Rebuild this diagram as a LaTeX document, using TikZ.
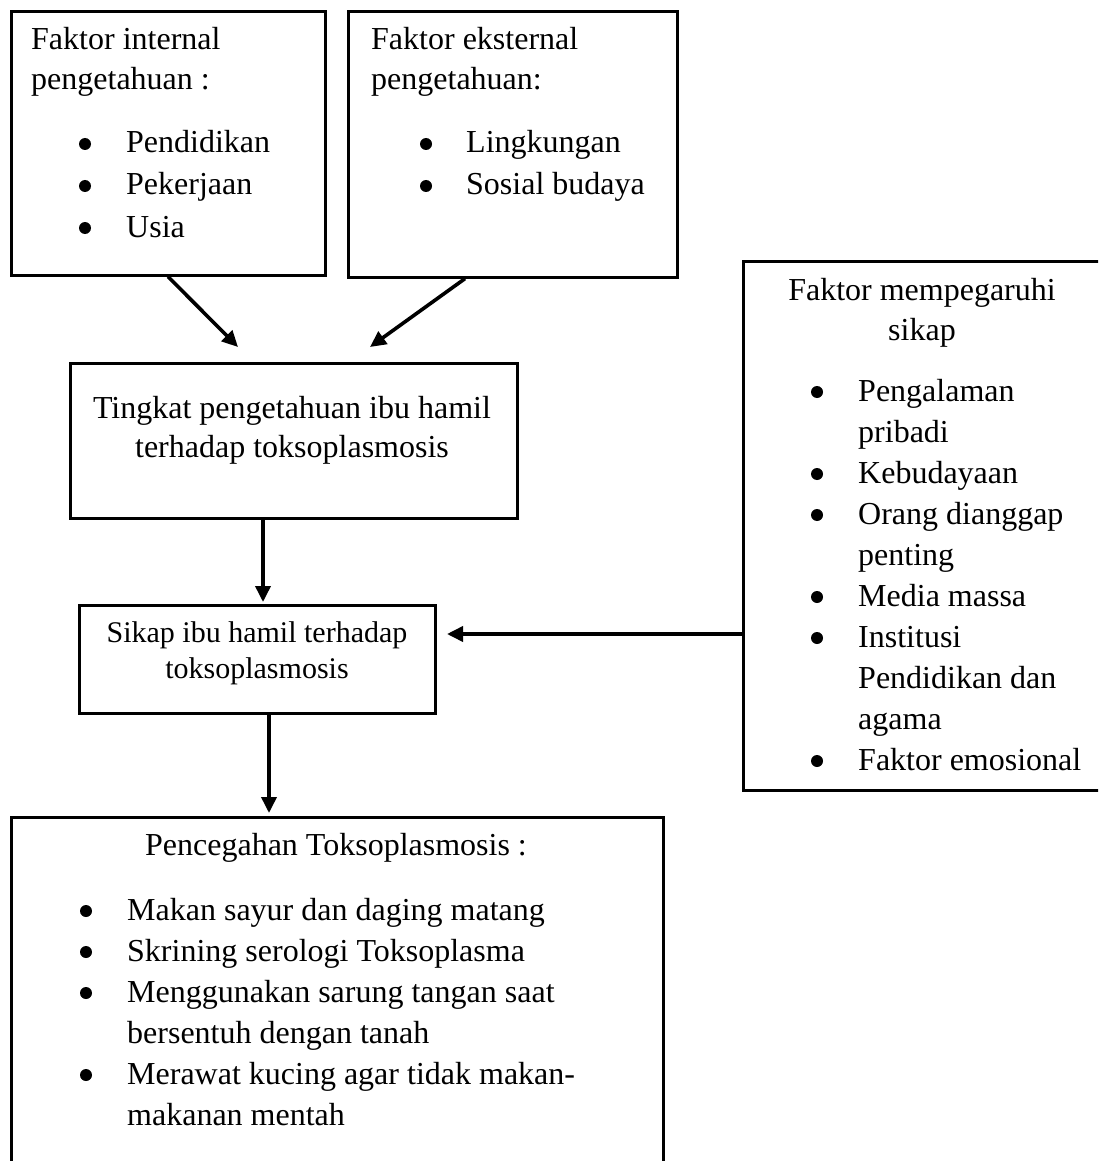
\documentclass[tikz,border=0pt]{standalone}
\usepackage{fontspec}
\setmainfont{Liberation Serif}
\usetikzlibrary{arrows.meta}
\tikzset{
  box/.style={draw=black, line width=2.6pt, rectangle, inner sep=0pt, anchor=north west},
  txt/.style={font=\fontsize{32}{41}\selectfont, inner sep=0pt},
  txts/.style={font=\fontsize{30}{36}\selectfont, inner sep=0pt},
  lt/.style={txt, anchor=base west},
  ct/.style={txt, anchor=base},
  bul/.style={circle, fill=black, inner sep=0pt, minimum size=12pt, yshift=9pt},
  arr/.style={line width=3.6pt, -{Triangle[length=16pt,width=15pt]}}
}
\begin{document}
\begin{tikzpicture}[x=1pt,y=-1pt]
\useasboundingbox (0,0) rectangle (1098,1161);
\clip (0,0) rectangle (1098,1161);
\fill[white] (0,0) rectangle (1098,1161);

% boxes
\node[box, minimum width=314pt, minimum height=264pt] (intl) at (10,10) {};
\node[box, minimum width=329pt, minimum height=266pt] (ext) at (347,10) {};
\node[box, minimum width=370pt, minimum height=529pt] (sf) at (742,260) {};
\node[box, minimum width=447pt, minimum height=155pt] (ting) at (69,362) {};
\node[box, minimum width=356pt, minimum height=108pt] (sik) at (78,604) {};
\node[box, minimum width=652pt, minimum height=370pt] (ceg) at (10,816) {};

% box 1 text
\node[lt] (i1) at (31,50) {Faktor internal};
\node[lt] (i2) at (31,90) {pengetahuan :};
\node[bul] (ib1) at (85,153) {};
\node[lt] (it1) at (126,153) {Pendidikan};
\node[bul] (ib2) at (85,195) {};
\node[lt] (it2) at (126,195) {Pekerjaan};
\node[bul] (ib3) at (85,237) {};
\node[lt] (it3) at (126,237) {Usia};

% box 2 text
\node[lt] (e1) at (371,50) {Faktor eksternal};
\node[lt] (e2) at (371,90) {pengetahuan:};
\node[bul] (eb1) at (426,153) {};
\node[lt] (et1) at (466,153) {Lingkungan};
\node[bul] (eb2) at (426,195) {};
\node[lt] (et2) at (466,195) {Sosial budaya};

% box 3 text
\node[ct] (s1) at (922,300) {Faktor mempegaruhi};
\node[ct] (s2) at (922,340) {sikap};
\node[bul] (sb1) at (817,401) {};
\node[lt] (st1) at (858,401) {Pengalaman};
\node[lt] (st1b) at (858,442) {pribadi};
\node[bul] (sb2) at (817,483) {};
\node[lt] (st2) at (858,483) {Kebudayaan};
\node[bul] (sb3) at (817,524) {};
\node[lt] (st3) at (858,524) {Orang dianggap};
\node[lt] (st3b) at (858,565) {penting};
\node[bul] (sb4) at (817,606) {};
\node[lt] (st4) at (858,606) {Media massa};
\node[bul] (sb5) at (817,647) {};
\node[lt] (st5) at (858,647) {Institusi};
\node[lt] (st5b) at (858,688) {Pendidikan dan};
\node[lt] (st5c) at (858,729) {agama};
\node[bul] (sb6) at (817,770) {};
\node[lt] (st6) at (858,770) {Faktor emosional};

% box 4 text
\node[ct] (t1) at (292,418) {Tingkat pengetahuan ibu hamil};
\node[ct] (t2) at (292,457) {terhadap toksoplasmosis};

% box 5 text
\node[txts, anchor=base] (k1) at (257,642) {Sikap ibu hamil terhadap};
\node[txts, anchor=base] (k2) at (257,678) {toksoplasmosis};

% box 6 text
\node[ct] (c0) at (336,855) {Pencegahan Toksoplasmosis :};
\node[bul] (cb1) at (86,920) {};
\node[lt] (ct1) at (127,920) {Makan sayur dan daging matang};
\node[bul] (cb2) at (86,961) {};
\node[lt] (ct2) at (127,961) {Skrining serologi Toksoplasma};
\node[bul] (cb3) at (86,1002) {};
\node[lt] (ct3) at (127,1002) {Menggunakan sarung tangan saat};
\node[lt] (ct3b) at (127,1043) {bersentuh dengan tanah};
\node[bul] (cb4) at (86,1084) {};
\node[lt] (ct4) at (127,1084) {Merawat kucing agar tidak makan-};
\node[lt] (ct4b) at (127,1125) {makanan mentah};

% arrow ends
\coordinate (a1e) at (238,347);
\coordinate (a2e) at (370,347);
\coordinate (a5e) at (447,634);

% arrows
\draw[arr] ([xshift=158pt]intl.south west) -- (a1e);
\draw[arr] ([xshift=118pt]ext.south west) -- (a2e);
\draw[arr] ([xshift=194pt]ting.south west) -- ([xshift=185pt,yshift=2pt]sik.north west);
\draw[arr] ([xshift=191pt]sik.south west) -- ([xshift=259pt,yshift=3pt]ceg.north west);
\draw[arr] ([yshift=-374pt]sf.north west) -- (a5e);
\end{tikzpicture}
\end{document}
